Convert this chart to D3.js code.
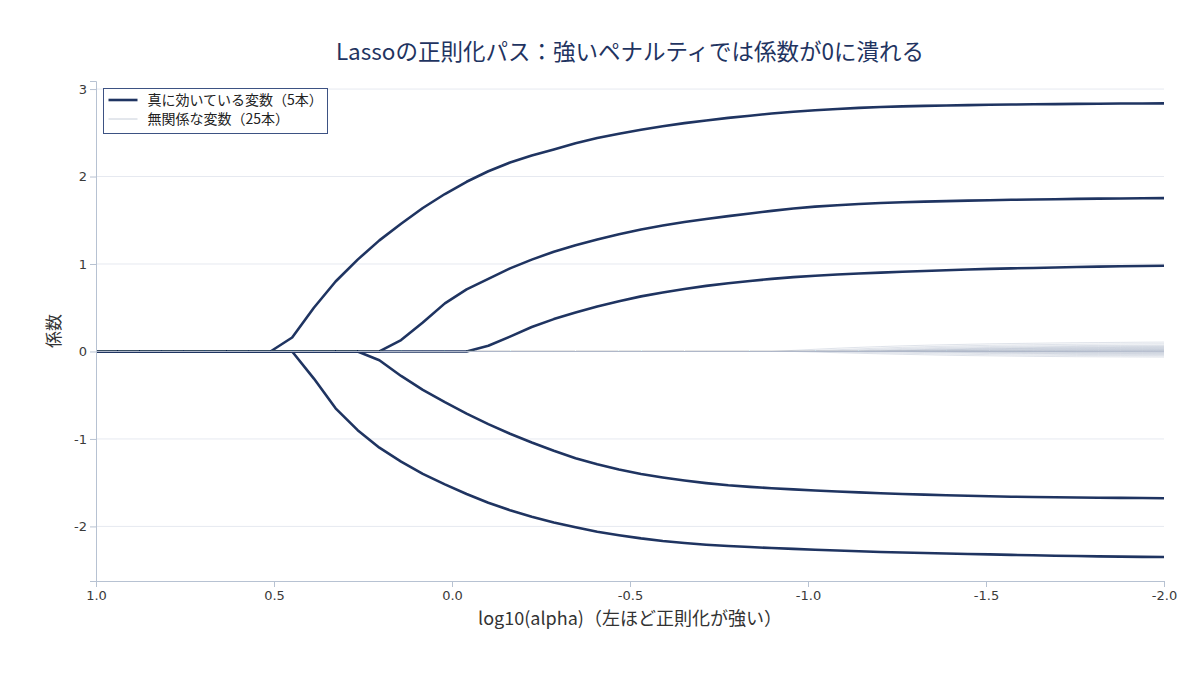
<!DOCTYPE html>
<html>
<head>
<meta charset="utf-8">
<script src="https://cdn.jsdelivr.net/npm/d3@7"></script>
<style>
  html, body { margin: 0; padding: 0; background: #fff; }
</style>
</head>
<body>
<svg id="chart" width="1200" height="675"></svg>
<script>
// log10(alpha) grid, strong penalty (left) to weak penalty (right)
const logAlpha = [
  1.000, 0.939, 0.878, 0.816, 0.755, 0.694, 0.633, 0.571, 0.510, 0.449,
  0.388, 0.327, 0.265, 0.204, 0.143, 0.082, 0.020, -0.041, -0.102, -0.163,
  -0.224, -0.286, -0.347, -0.408, -0.469, -0.531, -0.592, -0.653, -0.714, -0.776,
  -0.837, -0.898, -0.959, -1.020, -1.082, -1.143, -1.204, -1.265, -1.327, -1.388,
  -1.449, -1.510, -1.571, -1.633, -1.694, -1.755, -1.816, -1.878, -1.939, -2.000
]

// the 5 truly relevant coefficients
const trueA = [
  0, 0, 0, 0, 0, 0, 0, 0, 0, 0.16,
  0.50, 0.80, 1.05, 1.27, 1.46, 1.64, 1.80, 1.94, 2.06, 2.16,
  2.24, 2.31, 2.38, 2.44, 2.49, 2.535, 2.575, 2.61, 2.64, 2.67,
  2.695, 2.72, 2.74, 2.757, 2.772, 2.785, 2.795, 2.802, 2.808, 2.812,
  2.816, 2.82, 2.823, 2.826, 2.828, 2.83, 2.832, 2.834, 2.835, 2.836
]
const trueB = [
  0, 0, 0, 0, 0, 0, 0, 0, 0, 0,
  0, 0, 0, 0, 0.13, 0.33, 0.55, 0.71, 0.83, 0.95,
  1.05, 1.14, 1.215, 1.28, 1.34, 1.395, 1.44, 1.48, 1.515, 1.547,
  1.578, 1.607, 1.634, 1.656, 1.672, 1.686, 1.697, 1.706, 1.713, 1.719,
  1.724, 1.729, 1.734, 1.738, 1.741, 1.744, 1.747, 1.749, 1.751, 1.753
]
const trueC = [
  0, 0, 0, 0, 0, 0, 0, 0, 0, 0,
  0, 0, 0, 0, 0, 0, 0, 0, 0.065, 0.17,
  0.28, 0.37, 0.445, 0.515, 0.575, 0.63, 0.675, 0.715, 0.75, 0.78,
  0.806, 0.83, 0.85, 0.866, 0.88, 0.891, 0.901, 0.911, 0.92, 0.929,
  0.937, 0.944, 0.95, 0.955, 0.96, 0.965, 0.97, 0.974, 0.977, 0.98
]
const trueD = [
  0, 0, 0, 0, 0, 0, 0, 0, 0, 0,
  0, 0, 0, -0.10, -0.28, -0.44, -0.58, -0.71, -0.83, -0.94,
  -1.04, -1.135, -1.22, -1.29, -1.35, -1.40, -1.44, -1.475, -1.505, -1.53,
  -1.548, -1.563, -1.577, -1.59, -1.601, -1.611, -1.62, -1.629, -1.637, -1.644,
  -1.65, -1.655, -1.66, -1.664, -1.667, -1.67, -1.672, -1.674, -1.676, -1.678
]
const trueE = [
  0, 0, 0, 0, 0, 0, 0, 0, 0, 0,
  -0.31, -0.65, -0.90, -1.10, -1.26, -1.40, -1.52, -1.63, -1.73, -1.815,
  -1.89, -1.955, -2.01, -2.06, -2.10, -2.137, -2.167, -2.19, -2.209, -2.224,
  -2.236, -2.247, -2.257, -2.266, -2.275, -2.284, -2.292, -2.298, -2.304, -2.31,
  -2.315, -2.32, -2.325, -2.33, -2.335, -2.339, -2.342, -2.345, -2.348, -2.35
]
const trueSeries = [trueA, trueB, trueC, trueD, trueE]

// the 25 irrelevant coefficients: zero before index 31, these are the last 19 points
const noiseStart = 31
const noiseTails = [
  [0, 0.012, 0.025, 0.037, 0.047, 0.056, 0.064, 0.071, 0.077, 0.082, 0.087, 0.091, 0.094, 0.097, 0.100, 0.102, 0.104, 0.106, 0.107],
  [0, 0, 0.010, 0.020, 0.030, 0.039, 0.047, 0.054, 0.060, 0.066, 0.070, 0.074, 0.077, 0.080, 0.082, 0.084, 0.086, 0.087, 0.088],
  [0, 0, 0, 0.009, 0.018, 0.026, 0.034, 0.041, 0.047, 0.052, 0.056, 0.060, 0.063, 0.065, 0.067, 0.069, 0.070, 0.071, 0.072],
  [0, 0, 0, 0, 0.008, 0.016, 0.023, 0.030, 0.036, 0.041, 0.045, 0.049, 0.052, 0.055, 0.057, 0.059, 0.060, 0.061, 0.062],
  [0, 0, 0, 0, 0, 0.008, 0.015, 0.022, 0.028, 0.033, 0.037, 0.041, 0.044, 0.047, 0.049, 0.051, 0.053, 0.054, 0.055],
  [0, 0, 0, 0, 0, 0, 0.007, 0.014, 0.020, 0.025, 0.030, 0.034, 0.037, 0.040, 0.042, 0.044, 0.046, 0.047, 0.048],
  [0, 0, 0, 0, 0, 0.005, 0.010, 0.015, 0.020, 0.024, 0.028, 0.031, 0.034, 0.036, 0.038, 0.039, 0.040, 0.041, 0.042],
  [0, 0, 0, 0, 0, 0, 0, 0.006, 0.011, 0.016, 0.020, 0.024, 0.027, 0.030, 0.032, 0.033, 0.034, 0.035, 0.036],
  [0, 0, 0, 0, 0, 0, 0, 0, 0.005, 0.010, 0.014, 0.018, 0.021, 0.024, 0.026, 0.027, 0.028, 0.029, 0.030],
  [0, 0, 0, 0, 0, 0, 0.003, 0.006, 0.009, 0.012, 0.014, 0.016, 0.018, 0.020, 0.021, 0.022, 0.023, 0.024, 0.025],
  [0, 0, 0, 0, 0, 0, 0, 0, 0, 0.004, 0.007, 0.010, 0.012, 0.014, 0.016, 0.017, 0.018, 0.019, 0.020],
  [0, 0, 0, 0, 0, 0, 0, 0, 0, 0, 0.003, 0.006, 0.008, 0.010, 0.012, 0.013, 0.014, 0.015, 0.016],
  [0, 0, 0, 0, 0, 0, 0, 0, 0, 0, 0, 0.002, 0.004, 0.006, 0.008, 0.009, 0.010, 0.011, 0.012],
  [0, 0, 0, 0, 0, 0, 0, 0, 0, 0, 0, 0, 0, 0.002, 0.004, 0.005, 0.006, 0.007, 0.008],
  [0, 0, 0, 0, 0, 0, 0, 0, 0, 0, 0, 0, 0, 0, 0, 0.001, 0.002, 0.003, 0.004],
  [0, 0, 0, 0, 0, 0, 0, 0, 0, 0, 0, 0, 0, 0, 0, 0, 0, 0, 0],
  [0, 0, 0, 0, 0, 0, 0, 0, 0, 0, 0, 0, 0, 0, 0, 0, 0, 0, 0],
  [0, 0, 0, 0, 0, 0, 0, 0, 0, 0, 0, 0, 0, 0, -0.002, -0.003, -0.004, -0.005, -0.006],
  [0, 0, 0, 0, 0, 0, 0, 0, 0, 0, 0, 0, -0.002, -0.004, -0.006, -0.008, -0.010, -0.011, -0.012],
  [0, 0, 0, 0, 0, 0, 0, 0, 0, 0, -0.003, -0.006, -0.008, -0.010, -0.012, -0.014, -0.016, -0.017, -0.018],
  [0, 0, 0, 0, 0, 0, 0, 0, -0.003, -0.006, -0.009, -0.012, -0.015, -0.017, -0.019, -0.021, -0.023, -0.024, -0.025],
  [0, 0, 0, 0, 0, 0, 0, -0.004, -0.008, -0.012, -0.015, -0.018, -0.021, -0.024, -0.026, -0.028, -0.030, -0.031, -0.032],
  [0, 0, 0, 0, 0, -0.004, -0.008, -0.012, -0.016, -0.020, -0.023, -0.026, -0.029, -0.032, -0.034, -0.036, -0.038, -0.039, -0.040],
  [0, 0, 0, -0.005, -0.010, -0.015, -0.020, -0.025, -0.029, -0.033, -0.036, -0.039, -0.042, -0.044, -0.046, -0.047, -0.048, -0.049, -0.050],
  [0, 0, -0.007, -0.014, -0.021, -0.027, -0.033, -0.038, -0.043, -0.047, -0.050, -0.053, -0.056, -0.058, -0.060, -0.061, -0.062, -0.063, -0.064]
]

const xTicks = [1.0, 0.5, 0.0, -0.5, -1.0, -1.5, -2.0]
const yTicks = [-2, -1, 0, 1, 2, 3]

const titleText = 'Lassoの正則化パス：強いペナルティでは係数が0に潰れる'
const xLabel = 'log10(alpha)（左ほど正則化が強い）'
const yLabel = '係数'
const legendLabels = ['真に効いている変数（5本）', '無関係な変数（25本）']

const navy = '#1f3461'
const noiseColor = '#aeb8ca'
const axisColor = '#b7c2d2'
const gridColor = '#e6e9f0'
const jpFont = '"Noto Sans CJK JP", "Noto Sans", sans-serif'
const tickFont = '"DejaVu Sans", sans-serif'

const margin = { top: 81, right: 36, bottom: 94, left: 96 }
const width = 1200 - margin.left - margin.right
const height = 675 - margin.top - margin.bottom

const svgEl = d3.select('#chart')
const svg = svgEl.append('g').attr('transform', `translate(${margin.left},${margin.top})`)

const xScale = d3.scaleLinear().domain([1, -2]).range([0, width])
const yScale = d3.scaleLinear().domain([-2.624, 3.092]).range([height, 0])

// horizontal grid
svg.append('g')
  .selectAll('line')
  .data(yTicks)
  .enter()
  .append('line')
  .attr('x1', 0)
  .attr('x2', width)
  .attr('y1', (d) => yScale(d))
  .attr('y2', (d) => yScale(d))
  .attr('stroke', gridColor)
  .attr('stroke-width', 1)

const line = d3.line()
  .x((d, i) => xScale(logAlpha[i]))
  .y((d) => yScale(d))

// true coefficients
svg.append('g')
  .selectAll('path')
  .data(trueSeries)
  .enter()
  .append('path')
  .attr('fill', 'none')
  .attr('stroke', navy)
  .attr('stroke-width', 2.6)
  .attr('stroke-linejoin', 'round')
  .attr('d', (d) => line(d))

// irrelevant coefficients, padded with the zeros before they enter
const noiseSeries = noiseTails.map((tail) => new Array(noiseStart).fill(0).concat(tail))
svg.append('g')
  .selectAll('path')
  .data(noiseSeries)
  .enter()
  .append('path')
  .attr('fill', 'none')
  .attr('stroke', noiseColor)
  .attr('stroke-opacity', 0.4)
  .attr('stroke-width', 1)
  .attr('d', (d) => line(d))

// axes
const xAxis = d3.axisBottom(xScale)
  .tickValues(xTicks)
  .tickFormat((d) => d.toFixed(1).replace('\u2212', '-'))
  .tickSize(6)
  .tickPadding(4)
const xAxisGroup = svg.append('g')
  .attr('transform', `translate(0, ${height})`)
  .call(xAxis)
xAxisGroup.select('.domain').attr('stroke', axisColor)
xAxisGroup.selectAll('line').attr('stroke', axisColor)
xAxisGroup.selectAll('text')
  .attr('fill', '#3a3a3a')
  .attr('font-size', '13px')
  .attr('font-family', tickFont)

const yAxis = d3.axisLeft(yScale)
  .tickValues(yTicks)
  .tickFormat((d) => String(d))
  .tickSize(6)
  .tickPadding(3)
const yAxisGroup = svg.append('g').call(yAxis)
yAxisGroup.select('.domain').attr('stroke', axisColor)
yAxisGroup.selectAll('line').attr('stroke', axisColor)
yAxisGroup.selectAll('text')
  .attr('fill', '#3a3a3a')
  .attr('font-size', '13px')
  .attr('font-family', tickFont)

// titles
svgEl.append('text')
  .attr('x', margin.left + width / 2)
  .attr('y', 60)
  .attr('text-anchor', 'middle')
  .attr('font-family', jpFont)
  .attr('font-size', '22.5px')
  .attr('fill', navy)
  .text(titleText)

svgEl.append('text')
  .attr('x', margin.left + width / 2)
  .attr('y', 625)
  .attr('text-anchor', 'middle')
  .attr('font-family', jpFont)
  .attr('font-size', '18px')
  .attr('fill', '#333')
  .text(xLabel)

svgEl.append('text')
  .attr('transform', `translate(60, ${margin.top + height / 2}) rotate(-90)`)
  .attr('text-anchor', 'middle')
  .attr('font-family', jpFont)
  .attr('font-size', '17px')
  .attr('fill', '#333')
  .text(yLabel)

// legend
const legend = svgEl.append('g').attr('transform', 'translate(103.5, 88.5)')
legend.append('rect')
  .attr('width', 224)
  .attr('height', 45)
  .attr('fill', '#fff')
  .attr('stroke', '#3d5283')
  .attr('stroke-width', 1)
const legendStyles = [
  { color: navy, w: 2.6 },
  { color: '#c8cfda', w: 1 },
]
legendLabels.forEach((label, i) => {
  const ly = 11.5 + i * 19
  legend.append('line')
    .attr('x1', 5)
    .attr('x2', 34)
    .attr('y1', ly)
    .attr('y2', ly)
    .attr('stroke', legendStyles[i].color)
    .attr('stroke-width', legendStyles[i].w)
  legend.append('text')
    .attr('x', 44)
    .attr('y', ly)
    .attr('dy', '0.35em')
    .attr('font-family', jpFont)
    .attr('font-size', '14px')
    .attr('fill', '#222')
    .text(label)
})
</script>
</body>
</html>
